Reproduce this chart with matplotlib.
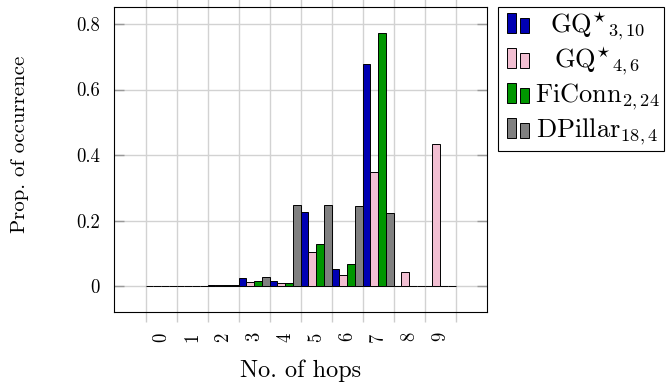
import matplotlib
matplotlib.use('Agg')
import matplotlib.pyplot as plt
from matplotlib.patches import Rectangle
import numpy as np

# ---- data ----
hops = [0, 1, 2, 3, 4, 5, 6, 7, 8, 9]
gq_3_10 = [0.0, 0.001, 0.002, 0.025, 0.017, 0.226, 0.051, 0.677, 0.0, 0.0]
gq_4_6 = [0.0, 0.001, 0.002, 0.014, 0.011, 0.105, 0.035, 0.349, 0.044, 0.435]
ficonn_2_24 = [0.0, 0.001, 0.002, 0.015, 0.011, 0.129, 0.066, 0.772, 0.0, 0.0]
dpillar_18_4 = [0.0, 0.001, 0.004, 0.027, 0.249, 0.249, 0.246, 0.222, 0.0, 0.0]
series_labels = [r'$\mathrm{GQ}^{\star}{}_{3,10}$', r'$\mathrm{GQ}^{\star}{}_{4,6}$',
                 r'$\mathrm{FiConn}_{2,24}$', r'$\mathrm{DPillar}_{18,4}$']
yticks = [0, 0.2, 0.4, 0.6, 0.8]
ytick_labels = ['0', '0.2', '0.4', '0.6', '0.8']

colors = ['#0000B3', '#F2BFD2', '#009600', '#808080']

plt.rcParams['font.family'] = 'cmr10'
plt.rcParams['mathtext.fontset'] = 'cm'
plt.rcParams['axes.formatter.use_mathtext'] = True

W, H = 667, 383
fig = plt.figure(figsize=(W / 100, H / 100), dpi=100)

def fx(px):
    return px / W

def fy(py):
    return 1 - py / H

L, R, T, B = 114.3, 486.7, 7.3, 312.0
ax = fig.add_axes([fx(L), fy(B), (R - L) / W, (B - T) / H])

x = np.array(hops, dtype=float)
width = 0.25
all_series = [gq_3_10, gq_4_6, ficonn_2_24, dpillar_18_4]
for i, (vals, c) in enumerate(zip(all_series, colors)):
    ax.bar(x - 0.375 + i * width, vals, width, color=c, edgecolor='black',
           linewidth=0.7, zorder=3)

ax.set_xlim(-1.513, 10.5)
ax.set_ylim(-0.079, 0.851)

ax.set_xticks(np.arange(len(hops) + 1) - 0.5)
ax.set_xticklabels([])
ax.set_xticks(x, minor=True)
ax.set_xticklabels([str(h) for h in hops], minor=True, rotation=90)
ax.tick_params(axis='x', which='major', direction='out', length=7.5, width=1.0,
               color='#cccccc', top=True, bottom=True)
ax.tick_params(axis='x', which='minor', length=0, pad=14.5, labelsize=13.5)

ax.set_yticks(yticks)
ax.set_yticklabels(ytick_labels)
ax.tick_params(axis='y', direction='in', length=7.2, width=1.0, color='#999999',
               left=True, right=True, labelsize=13.5, pad=10.3)

ax.grid(True, which='major', color='#d2d2d2', linewidth=1.0)
ax.set_axisbelow(True)
for s in ax.spines.values():
    s.set_linewidth(0.8)
    s.set_color('black')

fig.text(fx(300.5), fy(376.7), 'No. of hops', ha='center', va='baseline', fontsize=17.5)
fig.text(fx(20), fy(144), 'Prop. of occurrence', ha='center', va='center',
         rotation=90, fontsize=15)

# ---- legend ----
fig.patches.append(Rectangle((fx(498.3), fy(151)), (664.3 - 498.3) / W, (151 - 7.3) / H,
                             transform=fig.transFigure, facecolor='white',
                             edgecolor='black', linewidth=0.8))
for i, (lab, c) in enumerate(zip(series_labels, colors)):
    bottom = 33.3 + 35 * i
    fig.patches.append(Rectangle((fx(506.7), fy(bottom)), 9 / W, 20 / H,
                                 transform=fig.transFigure, facecolor=c,
                                 edgecolor='black', linewidth=0.7))
    fig.patches.append(Rectangle((fx(520.0), fy(bottom)), 9 / W, 15 / H,
                                 transform=fig.transFigure, facecolor=c,
                                 edgecolor='black', linewidth=0.7))
    fig.text(fx(597.5), fy(bottom - 1), lab, ha='center', va='baseline', fontsize=19)

fig.savefig('out.png', dpi=100)
